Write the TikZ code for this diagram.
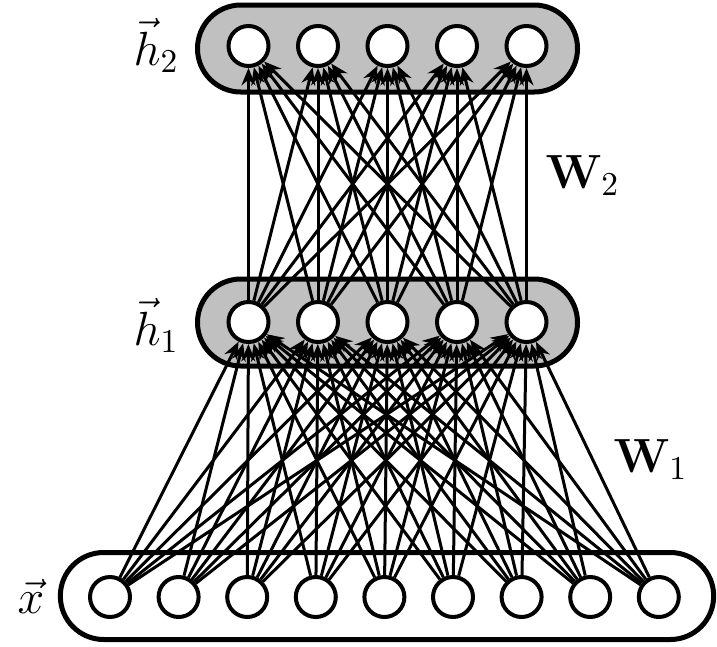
\documentclass[tikz,border=0pt]{standalone}
\usetikzlibrary{arrows.meta}
\definecolor{netInk}{RGB}{0,0,0}
\definecolor{netShade}{RGB}{192,192,192}
\tikzset{
  layerbox/.style={draw=netInk, line width=1.5pt, rounded corners=13pt,
    minimum height=26.1pt, inner sep=0pt},
  unit/.style={circle, draw=netInk, fill=white, line width=1.2pt,
    minimum size=12pt, inner sep=0pt},
  wlabel/.style={font=\fontsize{13.6}{16}\selectfont, inner sep=0pt,
    anchor=base west},
  vlabel/.style={font=\Large, inner sep=0pt, anchor=base west},
  edge/.style={-{Stealth[length=5.2pt, width=4.2pt]}, line width=.9pt,
    draw=netInk}
}

\begin{document}
\begin{tikzpicture}[x=0.3pt, y=-0.3pt]
\path[use as bounding box] (0,0) rectangle (717,646);

% layers
\node[layerbox, fill=netShade, minimum width=114pt] (top) at (387.5,48.5) {};
\node[layerbox, fill=netShade, minimum width=114pt] (mid) at (387.5,322.5) {};
\node[layerbox, fill=white, minimum width=196pt] (bot) at (387,596) {};

% units
\foreach \i in {1,...,5} {
  \node[unit] (h2-\i) at ({248.5+69.5*(\i-1)},46) {};
  \node[unit] (h1-\i) at ({248.5+69.5*(\i-1)},322) {};
}
\foreach \i in {1,...,9}
  \node[unit] (x-\i) at ({110+68.6*(\i-1)},597) {};

% weights
\foreach \i in {1,...,9}
  \foreach \j in {1,...,5}
    \draw[edge] (x-\i) -- (h1-\j);
\foreach \i in {1,...,5}
  \foreach \j in {1,...,5}
    \draw[edge] (h1-\i) -- (h2-\j);

% labels
\node[vlabel] (lh2) at (133,65) {$\vec{h}_2$};
\node[vlabel] (lh1) at (133,345) {$\vec{h}_1$};
\node[vlabel] (lx) at (17,613) {$\vec{x}$};
\node[wlabel] (lw2) at (545,188) {$\mathbf{W}_2$};
\node[wlabel] (lw1) at (613,472) {$\mathbf{W}_1$};
\end{tikzpicture}
\end{document}
